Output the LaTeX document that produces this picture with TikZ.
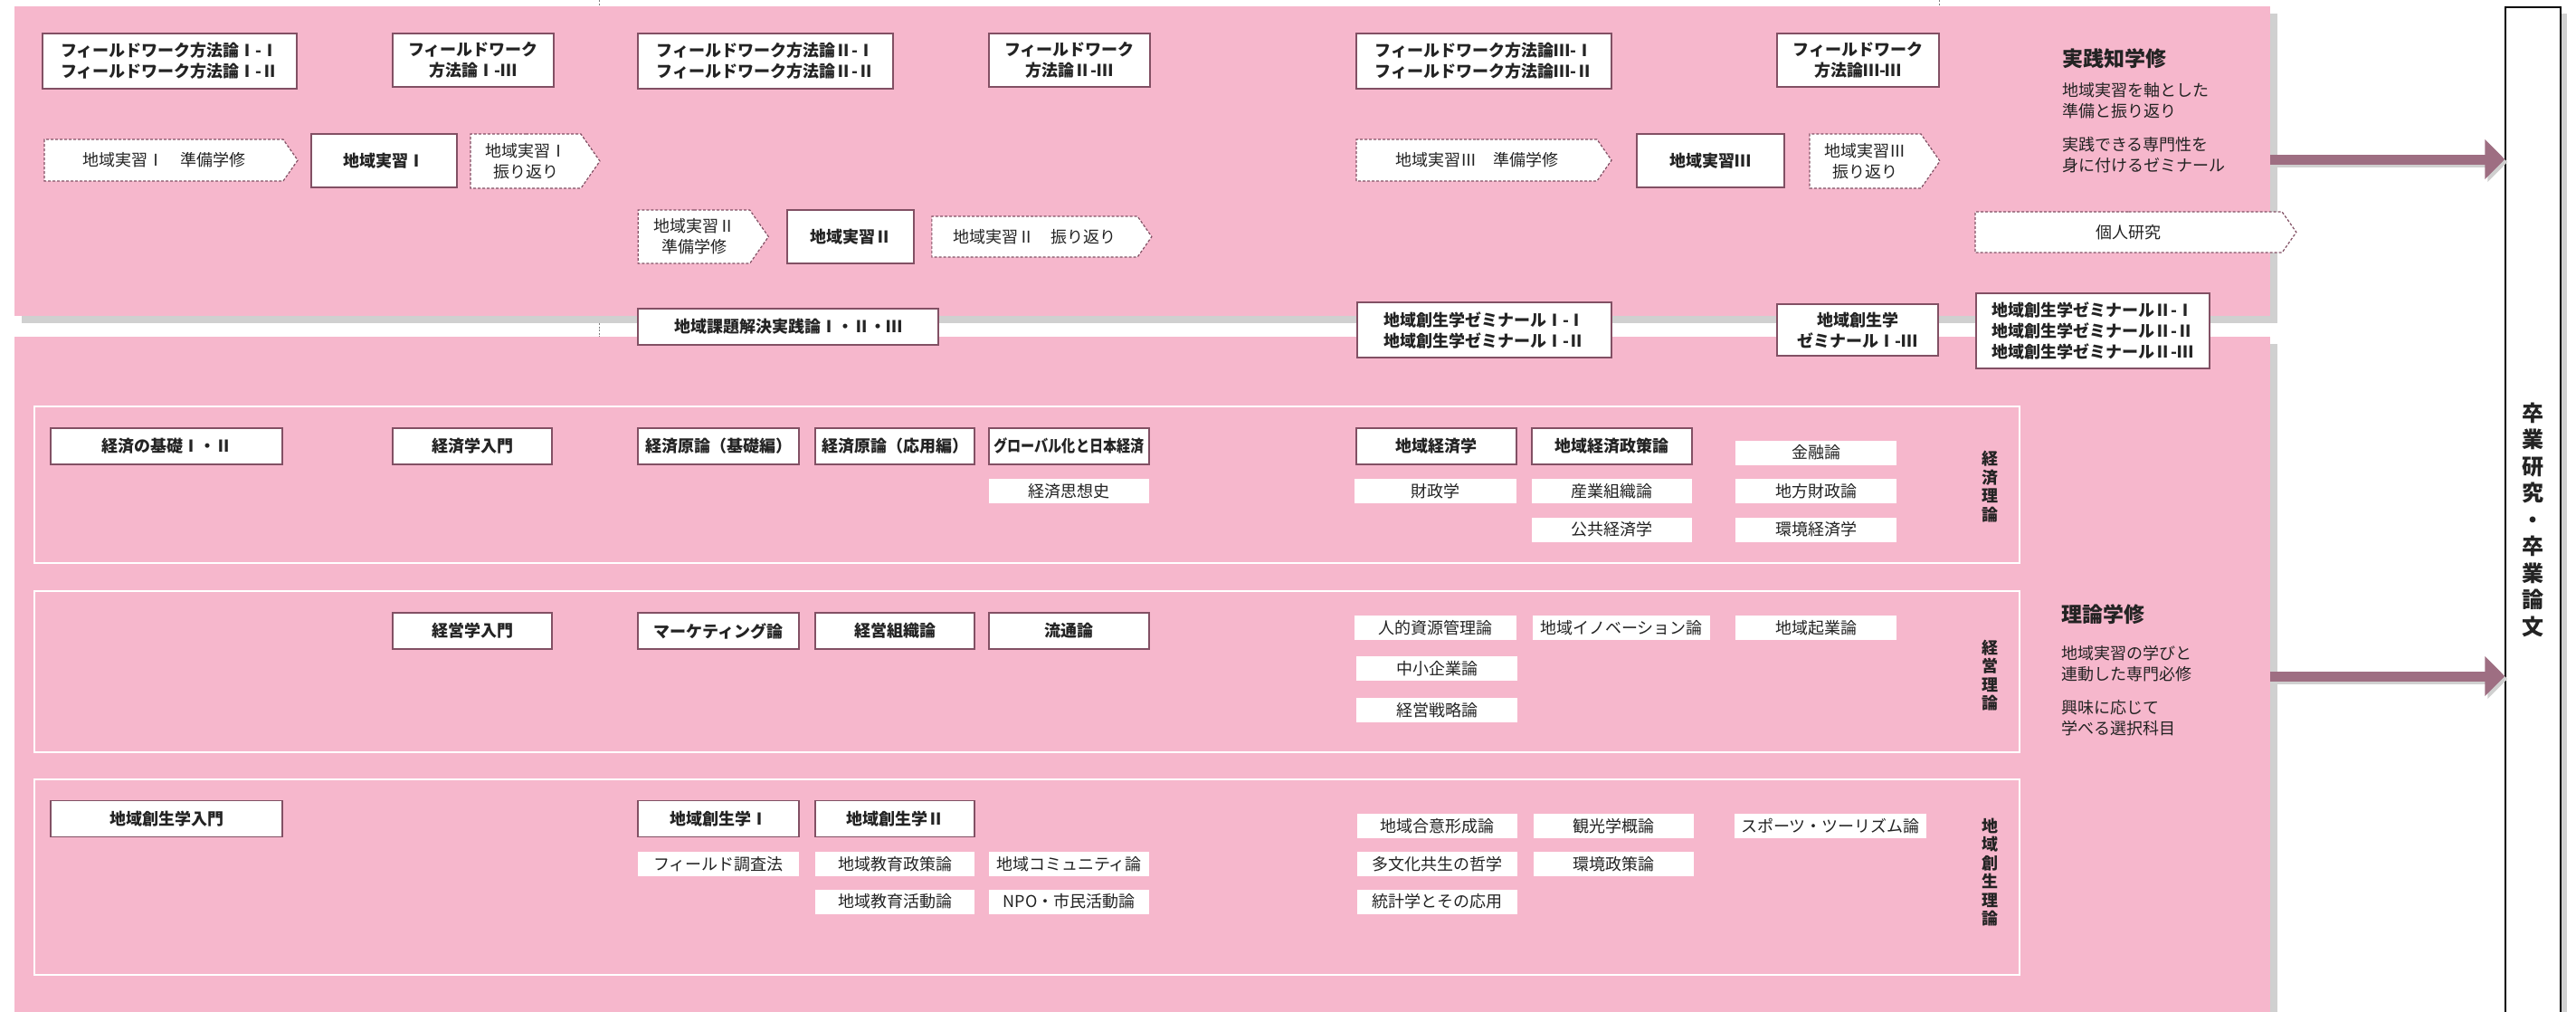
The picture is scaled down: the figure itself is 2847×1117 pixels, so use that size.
\documentclass[tikz,border=0pt]{standalone}
\usepackage{fontspec}
\usepackage{tikz}
\usetikzlibrary{arrows.meta,shapes.symbols,shadows}

\newfontfamily\jp{Noto Sans CJK JP}
\newfontfamily\jpnarrow{Noto Sans CJK JP}[FakeStretch=0.84]

\definecolor{panelpink}{RGB}{246,183,204}
\definecolor{boxline}{RGB}{130,80,100}
\definecolor{arrowmauve}{RGB}{158,110,130}
\definecolor{shadowgray}{RGB}{208,208,208}
\definecolor{textdark}{RGB}{35,35,35}

\begin{document}
\begin{tikzpicture}[x=1pt, y=-1pt,
    panel/.style={fill=panelpink, inner sep=0pt,
      drop shadow={shadow xshift=8pt, shadow yshift=-8pt, fill=shadowgray, opacity=1}},
    grp/.style={draw=white, line width=1.8pt, inner sep=0pt},
    core/.style={draw=boxline, line width=1.8pt, fill=white, inner sep=0pt, align=center,
      text=textdark, font=\jp\bfseries\fontsize{18}{23}\selectfont},
    opt/.style={fill=white, inner sep=0pt, minimum height=27pt, text=textdark,
      font=\jp\fontsize{18}{23}\selectfont},
    prep/.style={shape=signal, signal to=east, signal pointer angle=110, draw=boxline,
      dash pattern=on 3pt off 2pt, line width=1.2pt, fill=white, inner sep=0pt, align=center,
      text=textdark, font=\jp\fontsize{18}{23}\selectfont},
    vlabel/.style={inner sep=0pt, align=center, text=textdark,
      font=\jp\bfseries\fontsize{18}{20.5}\selectfont},
    title/.style={inner sep=0pt, anchor=west, text=textdark, font=\jp\bfseries\fontsize{23}{28}\selectfont},
    desc/.style={inner sep=0pt, anchor=west, align=left, text=textdark,
      font=\jp\fontsize{18}{23}\selectfont},
    gradbox/.style={draw=black, line width=1.5pt, fill=white, inner sep=0pt, align=center,
      text=textdark, font=\jp\bfseries\fontsize{24}{29.5}\selectfont,
      drop shadow={shadow xshift=7pt, shadow yshift=-7pt, fill=shadowgray, opacity=1}},
    bigarrow/.style={draw=arrowmauve, line width=11pt, -{Triangle[length=22pt,width=43pt]}},
    tick/.style={gray, line width=0.8pt, dash pattern=on 2pt off 1.5pt}]

    \useasboundingbox (0,0) rectangle (2847,1117);
    \fill[white] (0,0) rectangle (2847,1117);
    \clip (0,0) rectangle (2847,1117);

    %% crop ticks
    \foreach \tx in {662,2143}{
      \draw[tick] (\tx,0) -- (\tx,8);}
    \draw[tick] (662,357) -- (662,372);

    %% the two panels
    \node[panel, minimum width=2493pt, minimum height=342pt] (prac) at (1262.5,178) {};
    \node[panel, minimum width=2493pt, minimum height=768pt] (theo) at (1262.5,756) {};

    %% graduation
    \node[gradbox, minimum width=61pt, minimum height=1132pt] (grad) at (2799.5,574)
      {卒\\業\\研\\究\\・\\卒\\業\\論\\文};

    %% arrows to graduation
    \foreach \ay/\nm in {176/a, 747/b}{
      \coordinate (from\nm) at (prac.east |- 0,\ay);
      \coordinate (to\nm) at (grad.west |- 0,\ay);
      \draw[bigarrow, draw=shadowgray] ([shift={(3pt,-3pt)}]from\nm) -- ([shift={(3pt,-3pt)}]to\nm);
      \draw[bigarrow] (from\nm) -- (to\nm);}

    %% practice: field work methods
    \node[core, minimum width=281pt, minimum height=61pt] (fwa) at (187.5,67.5)
      {フィールドワーク方法論Ⅰ-Ⅰ\\フィールドワーク方法論Ⅰ-Ⅱ};
    \node[core, minimum width=178pt, minimum height=59pt] (fwac) at (523,66.5)
      {フィールドワーク\\方法論Ⅰ-Ⅲ};
    \node[core, minimum width=282pt, minimum height=61pt] (fwb) at (846,67.5)
      {フィールドワーク方法論Ⅱ-Ⅰ\\フィールドワーク方法論Ⅱ-Ⅱ};
    \node[core, minimum width=178pt, minimum height=59pt] (fwbc) at (1182,66.5)
      {フィールドワーク\\方法論Ⅱ-Ⅲ};
    \node[core, minimum width=282pt, minimum height=61pt] (fwc) at (1640,67.5)
      {フィールドワーク方法論Ⅲ-Ⅰ\\フィールドワーク方法論Ⅲ-Ⅱ};
    \node[core, minimum width=179pt, minimum height=59pt] (fwcc) at (2053.5,66.5)
      {フィールドワーク\\方法論Ⅲ-Ⅲ};

    %% practice: regional practice
    \node[prep, minimum width=280pt, minimum height=46pt] (pra) at (181,177) {地域実習Ⅰ　準備学修};
    \node[core, minimum width=161pt, minimum height=59pt] (exa) at (424.5,177.5) {地域実習Ⅰ};
    \node[prep, minimum width=143pt, minimum height=60pt] (rva) at (581,178) {地域実習Ⅰ\\振り返り};
    \node[prep, minimum width=144pt, minimum height=59pt] (prb) at (767,261.5) {地域実習Ⅱ\\準備学修};
    \node[core, minimum width=140pt, minimum height=59pt] (exb) at (940,261.5) {地域実習Ⅱ};
    \node[prep, minimum width=243pt, minimum height=45pt] (rvb) at (1143.5,261.5) {地域実習Ⅱ　振り返り};
    \node[prep, minimum width=282pt, minimum height=46pt] (prc) at (1632,177) {地域実習Ⅲ　準備学修};
    \node[core, minimum width=163pt, minimum height=59pt] (exc) at (1890.5,177.5) {地域実習Ⅲ};
    \node[prep, minimum width=144pt, minimum height=60pt] (rvc) at (2061.5,178) {地域実習Ⅲ\\振り返り};
    \node[prep, minimum width=355pt, minimum height=45pt] (own) at (2352.5,256.5) {個人研究};

    %% practice: seminars
    \node[core, minimum width=332pt, minimum height=40pt] (solve) at (871,361) {地域課題解決実践論Ⅰ・Ⅱ・Ⅲ};
    \node[core, minimum width=281pt, minimum height=61pt] (sema) at (1640.5,364.5)
      {地域創生学ゼミナールⅠ-Ⅰ\\地域創生学ゼミナールⅠ-Ⅱ};
    \node[core, minimum width=178pt, minimum height=57pt] (semb) at (2053,364.5)
      {地域創生学\\ゼミナールⅠ-Ⅲ};
    \node[core, minimum width=258pt, minimum height=83pt, align=left] (semc) at (2313,365.5)
      {地域創生学ゼミナールⅡ-Ⅰ\\地域創生学ゼミナールⅡ-Ⅱ\\地域創生学ゼミナールⅡ-Ⅲ};

    \node[title] (practitle) at (2279,65) {実践知学修};
    \node[desc] (pracda) at (2279,111.5) {地域実習を軸とした\\準備と振り返り};
    \node[desc] (pracdb) at (2279,171.5) {実践できる専門性を\\身に付けるゼミナール};

    %% theory groups
    \node[grp, minimum width=2194pt, minimum height=173pt] (ecogrp) at (1135,535.5) {};
    \node[grp, minimum width=2194pt, minimum height=178pt] (mgtgrp) at (1135,742) {};
    \node[grp, minimum width=2194pt, minimum height=216pt] (rgngrp) at (1135,969) {};
    \node[vlabel] (ecolab) at (2199,537.5) {経\\済\\理\\論};
    \node[vlabel] (mgtlab) at (2199,746) {経\\営\\理\\論};
    \node[vlabel] (rgnlab) at (2199,963.5) {地\\域\\創\\生\\理\\論};

    %% required courses
    \foreach \nm/\px/\py/\bw/\txt in {
        ecb/184/493/256/経済の基礎Ⅰ・Ⅱ, eci/522/493/176/経済学入門,
        ecp/794/493/178/経済原論（基礎編）, eca/989/493/176/経済原論（応用編）,
        ecg/1181.5/493/177/{\jpnarrow グローバル化と日本経済},
        rec/1587.5/493/177/地域経済学, recp/1781.5/493/177/地域経済政策論,
        mgi/522/697/176/経営学入門, mkt/794/697/178/マーケティング論,
        org/989/697/176/経営組織論, dst/1181.5/697/177/流通論,
        rgi/184/904.5/256/地域創生学入門, rga/794/904.5/178/地域創生学Ⅰ,
        rgb/989/904.5/176/地域創生学Ⅱ}{
      \node[core, minimum width=\bw pt, minimum height=40pt] (\nm) at (\px,\py) {\txt};}

    %% elective courses
    \foreach \nm/\px/\py/\bw/\txt in {
        ech/1181.5/542.5/177/経済思想史, fin/2007/500/178/金融論,
        pfi/1586.5/542.5/179/財政学, ind/1781.5/542.5/177/産業組織論,
        lfi/2007/542.5/178/地方財政論, pec/1781.5/585/177/公共経済学,
        env/2007/585/178/環境経済学,
        hrm/1586.5/693.5/179/人的資源管理論, inn/1792/693.5/196/地域イノベーション論,
        ent/2007/693.5/178/地域起業論, sme/1588/738.5/178/中小企業論,
        stg/1588/784.5/178/経営戦略論,
        fld/794/954.5/178/フィールド調査法, edp/989/954.5/176/地域教育政策論,
        com/1181.5/954.5/177/地域コミュニティ論, eda/989/996/176/地域教育活動論,
        npo/1181.5/996/177/NPO・市民活動論, cns/1588.5/912.5/177/地域合意形成論,
        tou/1783.5/912.5/177/観光学概論, spt/2023/912.5/212/スポーツ・ツーリズム論,
        mul/1588.5/954.5/177/多文化共生の哲学, evp/1783.5/954.5/177/環境政策論,
        sta/1588.5/996/177/統計学とその応用}{
      \node[opt, minimum width=\bw pt] (\nm) at (\px,\py) {\txt};}

    \node[title] (theotitle) at (2278,679) {理論学修};
    \node[desc] (theoda) at (2278,733.5) {地域実習の学びと\\連動した専門必修};
    \node[desc] (theodb) at (2278,793.5) {興味に応じて\\学べる選択科目};

\end{tikzpicture}
\end{document}
